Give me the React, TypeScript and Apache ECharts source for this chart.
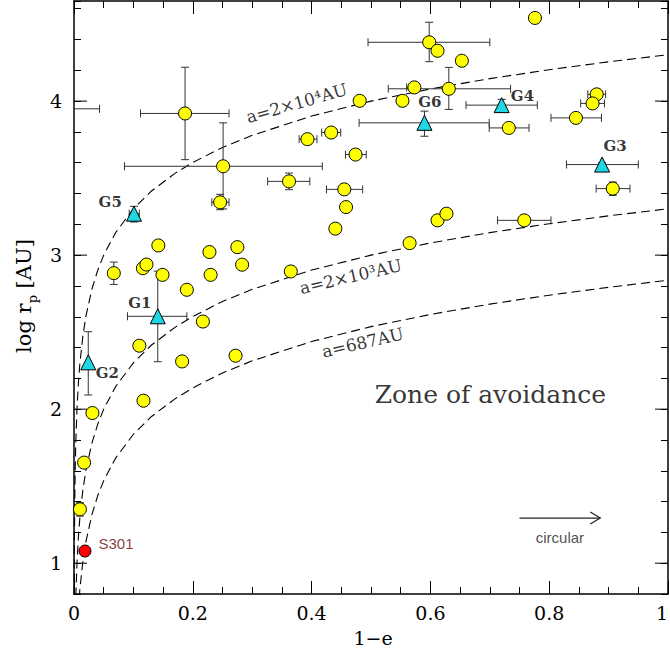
import { useEffect, useRef } from "react";
import * as echarts from "echarts";

// sample abscissae of the constant-a curves (log r_p = log a + log(1-e))
const curveX = [0.0002, 0.0003, 0.0005, 0.001, 0.002, 0.003, 0.005, 0.0075, 0.01, 0.015, 0.02, 0.03, 0.04, 0.05, 0.07, 0.1, 0.13, 0.17, 0.2, 0.25, 0.3, 0.4, 0.5, 0.6, 0.7, 0.8, 0.9, 1.0];
// a = 2x10^4 AU
const curveA = [0.602, 0.778, 1.0, 1.301, 1.602, 1.778, 2.0, 2.176, 2.301, 2.477, 2.602, 2.778, 2.903, 3.0, 3.146, 3.301, 3.415, 3.531, 3.602, 3.699, 3.778, 3.903, 4.0, 4.079, 4.146, 4.204, 4.255, 4.301];
// a = 2x10^3 AU
const curveB = [-0.398, -0.222, 0.0, 0.301, 0.602, 0.778, 1.0, 1.176, 1.301, 1.477, 1.602, 1.778, 1.903, 2.0, 2.146, 2.301, 2.415, 2.531, 2.602, 2.699, 2.778, 2.903, 3.0, 3.079, 3.146, 3.204, 3.255, 3.301];
// a = 687 AU
const curveC = [-0.862, -0.686, -0.464, -0.163, 0.138, 0.314, 0.536, 0.712, 0.837, 1.013, 1.138, 1.314, 1.439, 1.536, 1.682, 1.837, 1.951, 2.067, 2.138, 2.235, 2.314, 2.439, 2.536, 2.615, 2.682, 2.74, 2.791, 2.837];

// yellow points
const circleX = [0.187, 0.251, 0.246, 0.142, 0.228, 0.275, 0.067, 0.116, 0.122, 0.149, 0.23, 0.283, 0.19, 0.217, 0.11, 0.182, 0.272, 0.117, 0.031, 0.017, 0.01, 0.598, 0.612, 0.653, 0.573, 0.631, 0.553, 0.481, 0.393, 0.433, 0.474, 0.362, 0.455, 0.458, 0.44, 0.612, 0.627, 0.565, 0.365, 0.776, 0.732, 0.88, 0.873, 0.845, 0.907, 0.758];
const circleY = [3.92, 3.577, 3.343, 3.063, 3.02, 3.052, 2.883, 2.915, 2.939, 2.872, 2.872, 2.938, 2.775, 2.569, 2.412, 2.31, 2.347, 2.055, 1.975, 1.653, 1.35, 4.382, 4.327, 4.262, 4.089, 4.08, 4.002, 4.002, 3.753, 3.796, 3.653, 3.479, 3.427, 3.312, 3.172, 3.226, 3.269, 3.078, 2.894, 4.54, 3.826, 4.044, 3.985, 3.891, 3.432, 3.226];

// cyan groups
const groupNames = ["G1", "G2", "G3", "G4", "G5", "G6"];
const groupX = [0.141, 0.024, 0.889, 0.72, 0.101, 0.59];
const groupY = [2.603, 2.304, 3.588, 3.974, 3.269, 3.859];
const groupLabelX = [0.111, 0.056, 0.911, 0.755, 0.061, 0.599];
const groupLabelY = [2.688, 2.232, 3.709, 4.033, 3.345, 3.995];

// S301
const s301X = [0.0185];
const s301Y = [1.079];

// horizontal error bars: [xlow, y, xhigh]
const xErrBars = [
  [0.112, 3.92, 0.261], [0.085, 3.577, 0.418], [0.232, 3.343, 0.261], [0.221, 3.02, 0.235],
  [0.004, 1.35, 0.016], [0.495, 4.382, 0.7], [0.56, 4.089, 0.581], [0.529, 4.08, 0.735],
  [0.379, 3.753, 0.409], [0.417, 3.796, 0.449], [0.457, 3.653, 0.492], [0.326, 3.479, 0.397],
  [0.425, 3.427, 0.486], [0.699, 3.826, 0.766], [0.865, 4.044, 0.895], [0.853, 3.985, 0.893],
  [0.803, 3.891, 0.888], [0.879, 3.432, 0.936], [0.713, 3.226, 0.803],
  [0.09, 2.603, 0.19], [0.829, 3.588, 0.95], [0.66, 3.974, 0.78], [0.093, 3.269, 0.11], [0.48, 3.859, 0.699],
  [-0.06, 3.95, 0.043],
];
// vertical error bars: [x, ylow, yhigh]
const yErrBars = [
  [0.187, 3.62, 4.22], [0.251, 3.3, 3.859], [0.246, 3.295, 3.395], [0.228, 2.995, 3.045],
  [0.067, 2.81, 2.955], [0.01, 1.306, 1.393], [0.598, 4.256, 4.512], [0.631, 3.946, 4.219],
  [0.362, 3.425, 3.533], [0.455, 3.4, 3.455], [0.845, 3.87, 3.91], [0.907, 3.388, 3.475],
  [0.758, 3.2, 3.25],
  [0.141, 2.308, 2.896], [0.024, 2.092, 2.503], [0.72, 3.93, 4.011], [0.101, 3.215, 3.317],
  [0.59, 3.772, 3.935], [0.889, 3.575, 3.6],
];

const majorYTicks = [1, 2, 3, 4];

// annotations
const curveLabels = ["a=2×10⁴AU", "a=2×10³AU", "a=687AU"];
const curveLabelX = [0.375, 0.466, 0.486];
const curveLabelY = [3.987, 2.861, 2.432];
const curveLabelRot = [16, 13, 13];
const arrowSeg = [[0.75, 1.293, 0.886]];

const SERIF = "'DejaVu Serif', 'Liberation Serif', serif";
const SANS = "'Liberation Sans', Arial, sans-serif";

export default function App() {
  const ref = useRef<HTMLDivElement>(null);
  useEffect(() => {
    if (!ref.current) return;
    const chart = echarts.init(ref.current, null, { renderer: "svg", width: 670, height: 654 });

    const axisLineStyle = { color: "#000", width: 1.5 };
    const tickStyle = { color: "#000", width: 1 };
    const xBase = {
      type: "value",
      min: 0,
      max: 1,
      interval: 0.2,
      axisLine: { show: true, onZero: false, lineStyle: axisLineStyle },
      axisTick: { show: true, inside: true, length: 13, lineStyle: tickStyle },
      minorTick: { show: true, splitNumber: 4, length: 7, lineStyle: tickStyle },
      splitLine: { show: false },
      minorSplitLine: { show: false },
    };
    const isInt = (v: number) => Math.abs(v - Math.round(v)) < 1e-6;
    const yBase = {
      type: "value",
      min: 0.8,
      max: 4.65,
      interval: 0.2,
      axisLine: { show: true, onZero: false, lineStyle: axisLineStyle },
      axisTick: { show: true, inside: true, length: 7, lineStyle: tickStyle },
      splitLine: { show: false },
    };

    const errStyle = { stroke: "#333", lineWidth: 1 };
    const cap = 4;

    const option: any = {
      animation: false,
      backgroundColor: "#fff",
      grid: { left: 74, right: 2, top: 1, bottom: 60, containLabel: false, outerBoundsMode: "none" },
      xAxis: [
        {
          ...xBase,
          position: "bottom",
          axisLabel: { show: true, color: "#000", fontFamily: SERIF, fontSize: 19, margin: 9, alignMaxLabel: "right" },
        },
        { ...xBase, position: "top", axisLabel: { show: false } },
      ],
      yAxis: [
        {
          ...yBase,
          position: "left",
          axisLabel: {
            show: true,
            color: "#000",
            fontFamily: SERIF,
            fontSize: 19,
            margin: 12,
            formatter: (v: number) => (isInt(v) ? String(Math.round(v)) : ""),
          },
        },
        { ...yBase, position: "right", axisLabel: { show: false } },
      ],
      graphic: [
        {
          type: "text",
          x: 373,
          y: 638,
          style: { text: "1−e", font: `19px ${SERIF}`, fill: "#000", align: "center", verticalAlign: "middle" },
        },
        {
          type: "text",
          x: 24,
          y: 296,
          rotation: Math.PI / 2,
          style: {
            text: "{a|log r}{b|p}{a| [AU]}",
            fill: "#000",
            align: "center",
            verticalAlign: "middle",
            rich: {
              a: { fontFamily: SERIF, fontSize: 21, lineHeight: 30, verticalAlign: "middle", fill: "#000" },
              b: { fontFamily: SERIF, fontSize: 13, lineHeight: 30, verticalAlign: "bottom", fill: "#000" },
            },
          },
        },
      ],
      series: [
        // major y ticks (longer) on left and right
        {
          type: "custom",
          xAxisIndex: 0,
          yAxisIndex: 0,
          data: majorYTicks.map((v) => [0, v]),
          encode: { x: 0, y: 1 },
          z: 5,
          silent: true,
          renderItem: (_p: any, api: any) => {
            const v = api.value(1);
            const l = api.coord([0, v]);
            const r = api.coord([1, v]);
            return {
              type: "group",
              children: [
                { type: "line", shape: { x1: l[0], y1: l[1], x2: l[0] + 13, y2: l[1] }, style: { stroke: "#000", lineWidth: 1 } },
                { type: "line", shape: { x1: r[0] - 13, y1: r[1], x2: r[0], y2: r[1] }, style: { stroke: "#000", lineWidth: 1 } },
              ],
            };
          },
        },
        // constant-a curves
        ...[curveA, curveB, curveC].map((c) => ({
          type: "line",
          data: curveX.map((x, i) => [x, c[i]]),
          showSymbol: false,
          symbol: "none",
          clip: true,
          silent: true,
          z: 2,
          lineStyle: { color: "#000", width: 1.1, type: [9, 5] },
        })),
        // horizontal error bars
        {
          type: "custom",
          data: xErrBars,
          encode: { x: [0, 2], y: 1 },
          clip: true,
          z: 3,
          silent: true,
          renderItem: (_p: any, api: any) => {
            const y = api.value(1);
            const a = api.coord([api.value(0), y]);
            const b = api.coord([api.value(2), y]);
            return {
              type: "group",
              children: [
                { type: "line", shape: { x1: a[0], y1: a[1], x2: b[0], y2: b[1] }, style: errStyle },
                { type: "line", shape: { x1: a[0], y1: a[1] - cap, x2: a[0], y2: a[1] + cap }, style: errStyle },
                { type: "line", shape: { x1: b[0], y1: b[1] - cap, x2: b[0], y2: b[1] + cap }, style: errStyle },
              ],
            };
          },
        },
        // vertical error bars
        {
          type: "custom",
          data: yErrBars,
          encode: { x: 0, y: [1, 2] },
          clip: true,
          z: 3,
          silent: true,
          renderItem: (_p: any, api: any) => {
            const x = api.value(0);
            const a = api.coord([x, api.value(1)]);
            const b = api.coord([x, api.value(2)]);
            return {
              type: "group",
              children: [
                { type: "line", shape: { x1: a[0], y1: a[1], x2: b[0], y2: b[1] }, style: errStyle },
                { type: "line", shape: { x1: a[0] - cap, y1: a[1], x2: a[0] + cap, y2: a[1] }, style: errStyle },
                { type: "line", shape: { x1: b[0] - cap, y1: b[1], x2: b[0] + cap, y2: b[1] }, style: errStyle },
              ],
            };
          },
        },
        // yellow circles
        {
          type: "scatter",
          data: circleX.map((x, i) => [x, circleY[i]]),
          symbol: "circle",
          symbolSize: 13,
          z: 4,
          itemStyle: { color: "#ffff00", borderColor: "#000", borderWidth: 1, opacity: 1 },
        },
        // cyan triangles
        {
          type: "scatter",
          data: groupX.map((x, i) => [x, groupY[i]]),
          symbol: "triangle",
          symbolSize: 15,
          z: 4,
          itemStyle: { color: "#1fd6e4", borderColor: "#000", borderWidth: 1, opacity: 1 },
        },
        // S301
        {
          type: "scatter",
          data: s301X.map((x, i) => [x, s301Y[i]]),
          symbol: "circle",
          symbolSize: 12,
          z: 4,
          itemStyle: { color: "#ff0000", borderColor: "#000", borderWidth: 1, opacity: 1 },
        },
        // group labels
        {
          type: "scatter",
          symbolSize: 0,
          silent: true,
          z: 6,
          data: groupNames.map((n, i) => ({ name: n, value: [groupLabelX[i], groupLabelY[i]] })),
          label: {
            show: true,
            position: "inside",
            formatter: (p: any) => p.name,
            color: "#000",
            fontFamily: SERIF,
            fontWeight: "bold",
            fontSize: 15,
          },
        },
        // curve labels
        {
          type: "scatter",
          symbolSize: 0,
          silent: true,
          z: 6,
          data: curveLabels.map((n, i) => ({
            name: n,
            value: [curveLabelX[i], curveLabelY[i]],
            label: { rotate: curveLabelRot[i] },
          })),
          label: {
            show: true,
            position: "inside",
            formatter: (p: any) => p.name,
            color: "#000",
            fontFamily: SERIF,
            fontSize: 17,
          },
        },
        // other annotations
        {
          type: "scatter",
          symbolSize: 0,
          silent: true,
          z: 6,
          data: [
            {
              name: "Zone of avoidance",
              value: [0.701, 2.094],
              label: { fontFamily: SERIF, fontSize: 25, color: "#000" },
            },
            {
              name: "circular",
              value: [0.818, 1.17],
              label: { fontFamily: SANS, fontSize: 15, color: "#222" },
            },
            {
              name: "S301",
              value: [0.0707, 1.127],
              label: { fontFamily: SANS, fontSize: 15, color: "#6a0a0a" },
            },
          ],
          label: { show: true, position: "inside", formatter: (p: any) => p.name },
        },
        // arrow "circular"
        {
          type: "custom",
          data: arrowSeg,
          encode: { x: [0, 2], y: 1 },
          z: 6,
          silent: true,
          renderItem: (_p: any, api: any) => {
            const y = api.value(1);
            const a = api.coord([api.value(0), y]);
            const b = api.coord([api.value(2), y]);
            return {
              type: "group",
              children: [
                { type: "line", shape: { x1: a[0], y1: a[1], x2: b[0], y2: b[1] }, style: { stroke: "#222", lineWidth: 1.2 } },
                {
                  type: "polyline",
                  shape: { points: [[b[0] - 10, b[1] - 6], [b[0], b[1]], [b[0] - 10, b[1] + 6]] },
                  style: { stroke: "#222", lineWidth: 1.2, fill: "none" },
                },
              ],
            };
          },
        },
      ],
    };
    chart.setOption(option);
    return () => chart.dispose();
  }, []);

  return (
    <div
      ref={ref}
      style={{ position: "fixed", left: 0, top: 0, width: 670, height: 654, background: "#fff" }}
    />
  );
}
